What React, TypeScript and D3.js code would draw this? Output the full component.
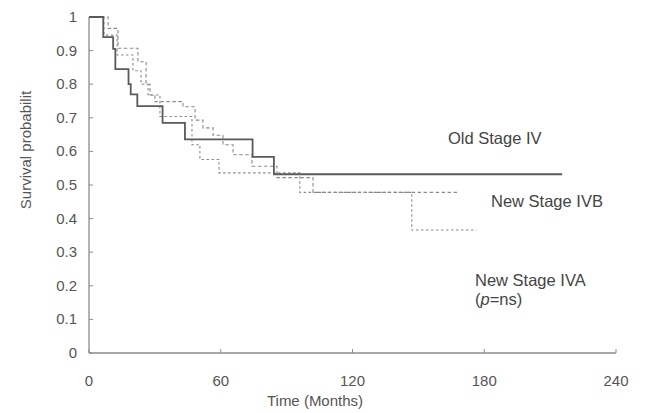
import React from "react";
import * as d3 from "d3";

const xTicks = [0, 60, 120, 180, 240];
const yTicks = [0, 0.1, 0.2, 0.3, 0.4, 0.5, 0.6, 0.7, 0.8, 0.9, 1];
const yTickLabels = ["0", "0.1", "0.2", "0.3", "0.4", "0.5", "0.6", "0.7", "0.8", "0.9", "1"];

// Old Stage IV (solid)
const oldTimes = [0, 6.5, 11, 12, 18, 19, 22, 33.5, 43.7, 74.5, 84.2];
const oldSurv = [1, 0.94, 0.905, 0.845, 0.8, 0.77, 0.735, 0.685, 0.636, 0.584, 0.532];
const oldEnd = 215.5;

// New Stage IVB (dotted, upper)
const ivbTimes = [0, 8.7, 13.2, 22.3, 26, 27.8, 30, 42.8, 48.3, 51.9, 56.5, 61, 65.6, 74.2, 85.6, 102];
const ivbSurv = [1, 0.966, 0.907, 0.867, 0.8, 0.768, 0.748, 0.733, 0.693, 0.67, 0.648, 0.62, 0.59, 0.556, 0.522, 0.478];
const ivbEnd = 167.6;

// New Stage IVA (dotted, lower)
const ivaTimes = [0, 6.8, 12.8, 20, 23.7, 26.9, 32.3, 46.9, 50.5, 59.2, 96, 147];
const ivaSurv = [1, 0.946, 0.887, 0.84, 0.8, 0.768, 0.704, 0.62, 0.576, 0.536, 0.478, 0.366];
const ivaEnd = 176.5;

const W = 645;
const H = 413;
const FONT = "'Liberation Sans', Arial, sans-serif";

export default function App() {
  const x = d3.scaleLinear().domain([0, 240]).range([89, 616]);
  const y = d3.scaleLinear().domain([0, 1]).range([353, 17]);

  const line = d3
    .line<[number, number]>()
    .x((d) => x(d[0]))
    .y((d) => y(d[1]))
    .curve(d3.curveStepAfter);

  const mk = (ts: number[], ss: number[], end: number): [number, number][] => {
    const pts: [number, number][] = ts.map((t, i) => [t, ss[i]]);
    pts.push([end, ss[ss.length - 1]]);
    return pts;
  };

  const axisColor = "#8c8c8c";
  const textColor = "#555";

  return (
    <svg
      width={W}
      height={H}
      style={{ position: "absolute", left: 0, top: 0, background: "#fff" }}
      fontFamily={FONT}
    >
      <rect x={0} y={0} width={W} height={H} fill="#fff" />
      {/* axes */}
      <line x1={x(0)} x2={x(240)} y1={y(0)} y2={y(0)} stroke={axisColor} strokeWidth={1.3} />
      <line x1={x(0)} x2={x(0)} y1={y(0)} y2={y(1)} stroke={axisColor} strokeWidth={1.3} />
      {xTicks.map((t) => (
        <g key={"xt" + t}>
          <line x1={x(t)} x2={x(t)} y1={y(0)} y2={y(0) - 4} stroke={axisColor} strokeWidth={1} />
          <text x={x(t)} y={386} textAnchor="middle" fontSize={15} fill={textColor}>
            {t}
          </text>
        </g>
      ))}
      {yTicks.map((v, i) => (
        <g key={"yt" + v}>
          <line x1={x(0)} x2={x(0) + 4} y1={y(v)} y2={y(v)} stroke={axisColor} strokeWidth={1} />
          <text x={77} y={y(v) + 5} textAnchor="end" fontSize={15} fill={textColor}>
            {yTickLabels[i]}
          </text>
        </g>
      ))}
      <text x={315} y={406} textAnchor="middle" fontSize={15} fill={textColor}>
        Time (Months)
      </text>
      <text
        transform={`translate(31,150) rotate(-90)`}
        textAnchor="middle"
        fontSize={15}
        fill={textColor}
      >
        Survival probabilit
      </text>

      {/* curves */}
      <path d={line(mk(ivaTimes, ivaSurv, ivaEnd)) || ""} fill="none" stroke="#8a8a8a" strokeWidth={1.1} strokeDasharray="2.5,2.5" />
      <path d={line(mk(ivbTimes, ivbSurv, ivbEnd)) || ""} fill="none" stroke="#8a8a8a" strokeWidth={1.1} strokeDasharray="3.5,2.5" />
      <path d={line(mk(oldTimes, oldSurv, oldEnd)) || ""} fill="none" stroke="#5a5a5a" strokeWidth={1.8} />

      {/* labels */}
      <text x={448} y={144} fontSize={16.5} fill="#444">Old Stage IV</text>
      <text x={491} y={207} fontSize={16.5} fill="#444">New Stage IVB</text>
      <text x={475} y={286} fontSize={16.5} fill="#444">New Stage IVA</text>
      <text x={475} y={305} fontSize={16.5} fill="#444">
        (<tspan fontStyle="italic">p</tspan>=ns)
      </text>
    </svg>
  );
}
